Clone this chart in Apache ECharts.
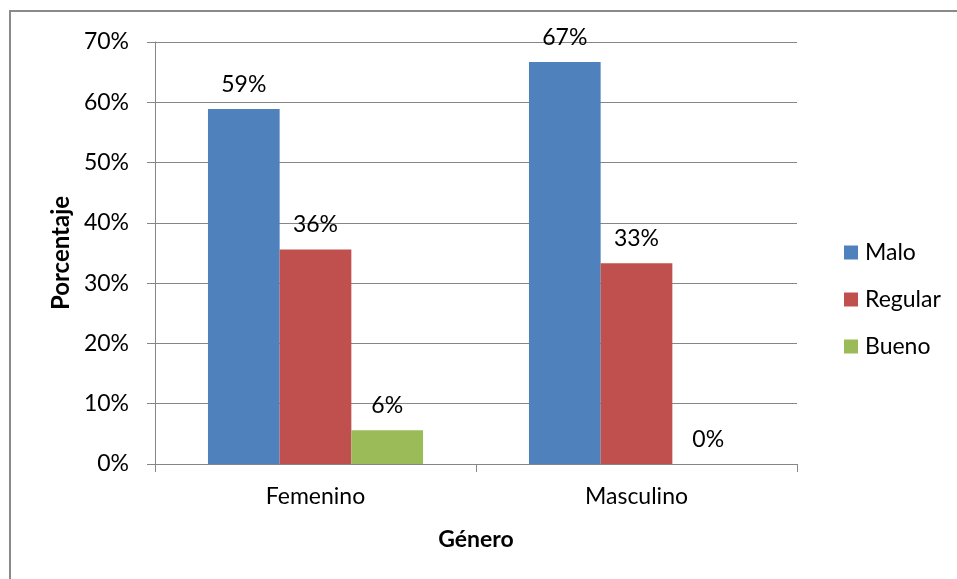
<!DOCTYPE html>
<html>
<head>
<meta charset="utf-8">
<script src="https://cdn.jsdelivr.net/npm/echarts@6/dist/echarts.min.js"></script>
<style>
  html, body { margin: 0; padding: 0; background: #fff; }
  #chart { width: 957px; height: 579px; }
</style>
</head>
<body>
<div id="chart"></div>
<script>
  // categorias y porcentajes por nivel
  let categories = ['Femenino', 'Masculino'];
  let malo = [58.9, 66.7];
  let regular = [35.6, 33.3];
  let bueno = [5.6, 0];
  let seriesNames = ['Malo', 'Regular', 'Bueno'];
  let colors = ['#4f81bd', '#c0504d', '#9bbb59'];

  let font = 'Lato, "Open Sans", sans-serif';
  let gridColor = '#868686';

  function barSeries(name, data, color) {
    return {
      name: name,
      type: 'bar',
      data: data,
      barGap: 0,
      barCategoryGap: '33%',
      itemStyle: {color: color},
      label: {
        show: true,
        position: 'top',
        distance: 13,
        color: '#000',
        fontFamily: font,
        fontSize: 23,
        formatter: function (p) {
          return Math.round(p.value) + '%';
        }
      }
    };
  }

  let chart = echarts.init(document.getElementById('chart'));
  chart.setOption({
    animation: false,
    textStyle: {fontFamily: font},
    graphic: [{
      type: 'rect',
      shape: {x: 10, y: 11, width: 1000, height: 1000},
      style: {fill: 'none', stroke: '#8a8a8a', lineWidth: 2}
    }],
    grid: {left: 155, right: 160, top: 42, bottom: 115},
    legend: {
      orient: 'vertical',
      left: 839,
      top: 236,
      itemWidth: 14,
      itemHeight: 14,
      itemGap: 24,
      icon: 'rect',
      data: seriesNames,
      textStyle: {fontFamily: font, fontSize: 23, color: '#000', padding: [0, 0, 0, 2]}
    },
    xAxis: {
      type: 'category',
      data: categories,
      name: 'Género',
      nameLocation: 'middle',
      nameGap: 64,
      nameTextStyle: {fontFamily: font, fontSize: 23, fontWeight: 'bold', color: '#000'},
      axisLine: {lineStyle: {color: gridColor}},
      axisTick: {show: true, length: 8, lineStyle: {color: gridColor}},
      axisLabel: {fontFamily: font, fontSize: 23, color: '#000', margin: 21}
    },
    yAxis: {
      type: 'value',
      min: 0,
      max: 70,
      interval: 10,
      name: 'Porcentaje',
      nameLocation: 'middle',
      nameGap: 77,
      nameTextStyle: {fontFamily: font, fontSize: 24, fontWeight: 'bold', color: '#000'},
      axisLine: {show: true, lineStyle: {color: gridColor}},
      axisTick: {show: true, length: 8, lineStyle: {color: gridColor}},
      axisLabel: {fontFamily: font, fontSize: 23, color: '#000', margin: 26, formatter: '{value}%'},
      splitLine: {lineStyle: {color: gridColor, width: 1}}
    },
    series: [
      barSeries('Malo', malo, colors[0]),
      barSeries('Regular', regular, colors[1]),
      barSeries('Bueno', bueno, colors[2])
    ]
  });
</script>
</body>
</html>
